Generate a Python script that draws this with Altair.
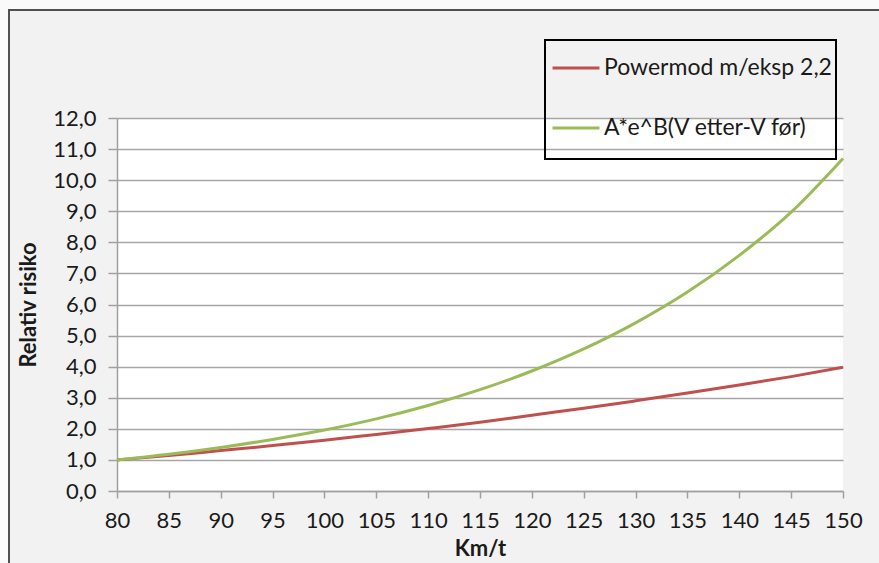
import altair as alt
import pandas as pd

# Speed (km/t) and relative risk for the two model curves
speed = [80, 85, 90, 95, 100, 105, 110, 115, 120, 125, 130, 135, 140, 145, 150]
power_model = [1.00, 1.14, 1.30, 1.46, 1.63, 1.82, 2.01, 2.21, 2.44, 2.66, 2.90, 3.15, 3.41, 3.68, 3.98]
exp_model = [1.00, 1.18, 1.40, 1.66, 1.96, 2.32, 2.75, 3.26, 3.86, 4.57, 5.41, 6.40, 7.58, 8.97, 10.70]

series_names = ["Powermod m/eksp 2,2", "A*e^B(V etter-V før)"]
series_colors = ["#c0504d", "#9bbb59"]

x_ticks = list(range(80, 151, 5))
y_ticks = list(range(0, 13))

df = pd.concat([
    pd.DataFrame({"speed": speed, "risk": power_model, "series": series_names[0]}),
    pd.DataFrame({"speed": speed, "risk": exp_model, "series": series_names[1]}),
])

FONT = "Lato"
TEXT = "#1a1a1a"
W, H = 726, 373
PAD = {"left": 117, "top": 118, "right": 36, "bottom": 72}
one_row = pd.DataFrame({"k": [0]})

# light margin outside the chart frame
margin = alt.Chart(one_row).mark_rect(
    fillOpacity=0, stroke="#fafafa", strokeWidth=18
).encode(
    x=alt.value(-PAD["left"]),
    y=alt.value(-PAD["top"]),
    x2=alt.value(W + PAD["right"] + 20),
    y2=alt.value(H + PAD["bottom"] + 20),
)

# outer chart frame
frame = alt.Chart(one_row).mark_rect(
    fillOpacity=0, stroke="#505050", strokeWidth=2
).encode(
    x=alt.value(9 - PAD["left"]),
    y=alt.value(10 - PAD["top"]),
    x2=alt.value(W + 60),
    y2=alt.value(H + 100),
)

# border around the legend
legend_box = alt.Chart(one_row).mark_rect(
    fillOpacity=0, stroke="#000000", strokeWidth=2
).encode(
    x=alt.value(545 - PAD["left"]),
    y=alt.value(40 - PAD["top"]),
    x2=alt.value(836 - PAD["left"]),
    y2=alt.value(159 - PAD["top"]),
)

lines = alt.Chart(df).mark_line(strokeWidth=3, interpolate="monotone").encode(
    x=alt.X(
        "speed:Q",
        scale=alt.Scale(domain=[80, 150], nice=False, zero=False),
        axis=alt.Axis(
            values=x_ticks,
            title="Km/t",
            grid=False,
            tickSize=7,
            labelPadding=12,
            labelFlush=False,
            titlePadding=7,
        ),
    ),
    y=alt.Y(
        "risk:Q",
        scale=alt.Scale(domain=[0, 12], nice=False),
        axis=alt.Axis(
            values=y_ticks,
            title="Relativ risiko",
            labelExpr="replace(format(datum.value, '.1f'), '.', ',')",
            tickSize=9,
            labelPadding=12,
            titlePadding=12,
        ),
    ),
    color=alt.Color(
        "series:N",
        scale=alt.Scale(domain=series_names, range=series_colors),
        legend=alt.Legend(
            title=None,
            orient="none",
            legendX=551 - PAD["left"],
            legendY=43 - PAD["top"],
            padding=0,
            symbolType="stroke",
            symbolSize=2200,
            symbolStrokeWidth=3,
            rowPadding=23,
            labelOffset=3,
            labelFontSize=23,
            labelLimit=400,
            labelFont=FONT,
            labelColor=TEXT,
        ),
    ),
)

chart = alt.layer(margin, frame, legend_box, lines).properties(
    width=W,
    height=H,
    autosize=alt.AutoSizeParams(type="none"),
    padding=PAD,
    background="#f2f2f2",
).configure_view(
    fill="white",
    stroke=None,
).configure_axis(
    labelFont=FONT,
    labelFontSize=22,
    labelColor=TEXT,
    titleFont=FONT,
    titleFontSize=22,
    titleFontWeight="bold",
    titleColor=TEXT,
    domainColor="#a0a0a0",
    domainWidth=1.5,
    tickColor="#a0a0a0",
    tickWidth=1.5,
    gridColor="#a6a6a6",
    gridWidth=1.4,
)

chart.save("out.html", embed_options={"renderer": "svg", "actions": False})
